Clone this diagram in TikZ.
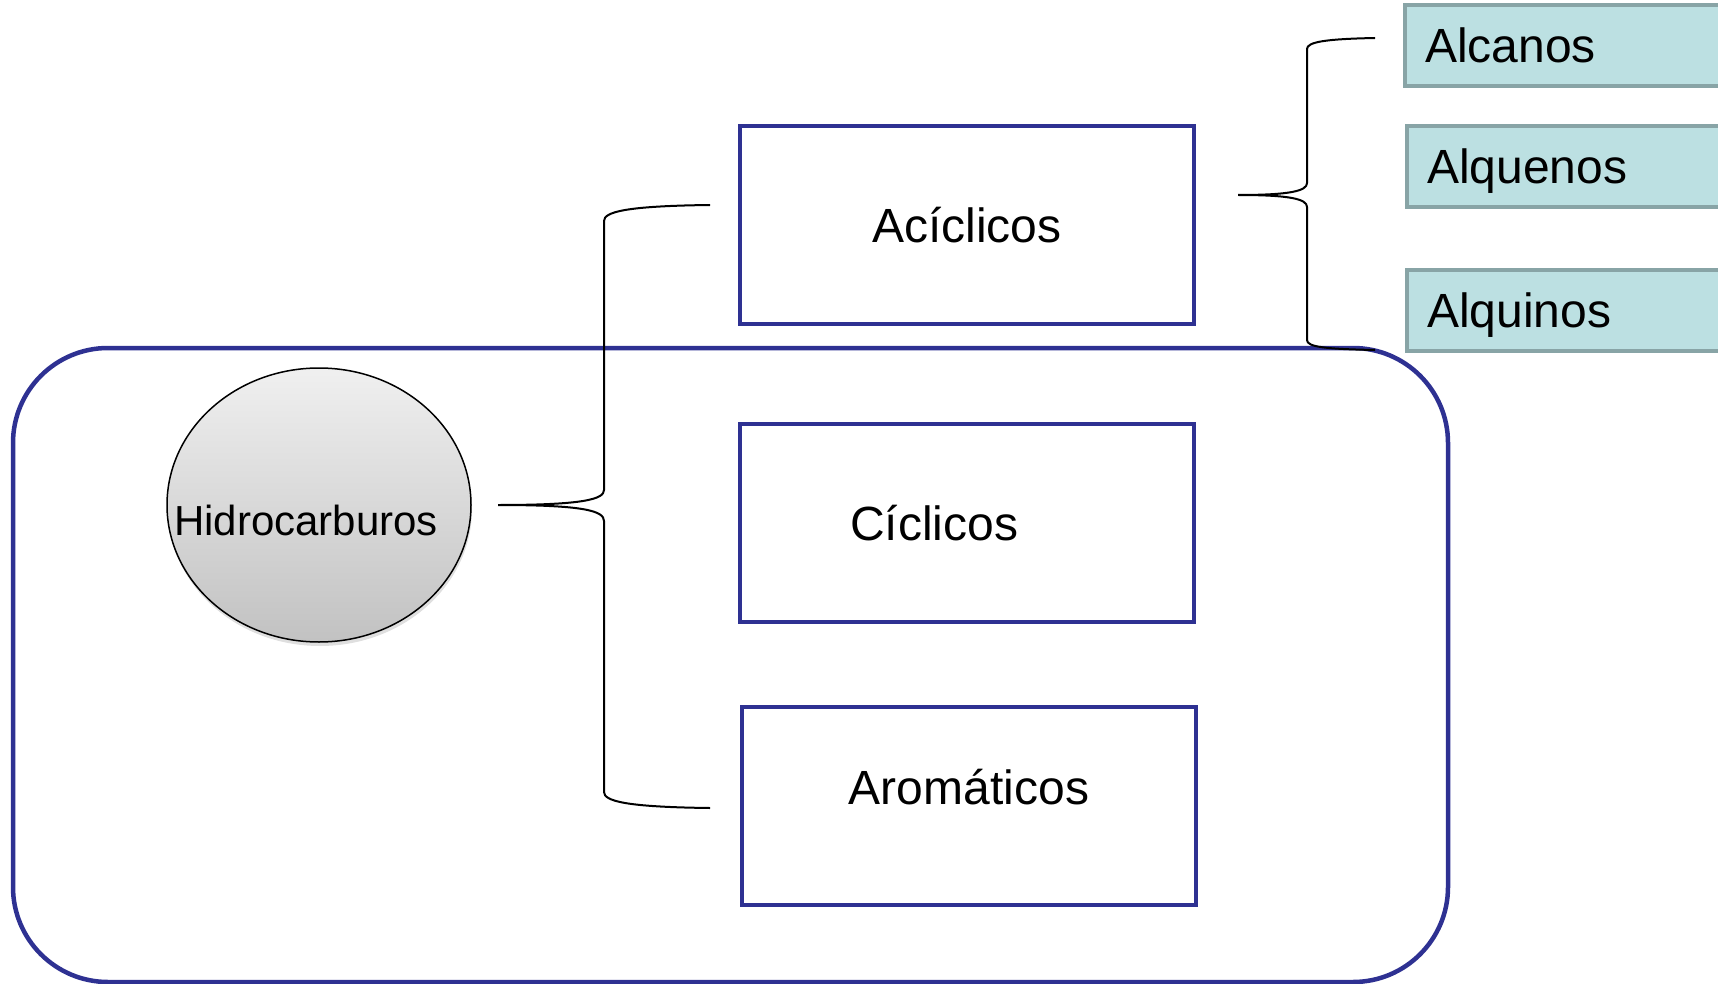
\documentclass[tikz,border=0pt]{standalone}
\usepackage{fontspec}
\setmainfont{Liberation Sans}
\usetikzlibrary{shapes.geometric,shadows}
\definecolor{azulmarco}{HTML}{2E3192}
\definecolor{verdefondo}{HTML}{BCE0E2}
\definecolor{verdeborde}{HTML}{88A4A6}
\begin{document}
\begin{tikzpicture}[x=1pt,y=-1pt,
      caja/.style={draw=azulmarco,line width=4.5pt,minimum width=454pt,minimum height=198pt,inner sep=0pt},
      tipo/.style={draw=verdeborde,fill=verdefondo,line width=4pt,anchor=west,text depth=0pt,
        text width=300pt,inner xsep=20pt,minimum height=81pt,align=left},
      llave/.style={line width=2pt},
      font=\fontsize{48}{56}\selectfont]
    \useasboundingbox (0,0) rectangle (1718,984);
    \clip (0,0) rectangle (1718,984);
    \draw[azulmarco,line width=4.5pt,rounded corners=95pt] (13,348) rectangle (1448,982);
    \node[ellipse,draw,line width=1.5pt,minimum width=304pt,minimum height=274pt,
          top color=gray!12,bottom color=gray!48,
          drop shadow={shadow xshift=1pt,shadow yshift=-4pt,opacity=0.25},
          label={[xshift=-13pt,yshift=-15pt,font=\fontsize{42}{50}\selectfont]center:Hidrocarburos}]
          (hidro) at (319,505) {};
    \node[caja] (aciclicos) at (967,225) {Acíclicos};
    \node[caja,label={[xshift=-33pt]center:Cíclicos}] (ciclicos) at (967,523) {};
    \node[caja,label={[yshift=19pt]center:Aromáticos}] (aromaticos) at (969,806) {};
    \node[tipo] (alcanos) at (1403,45.5) {Alcanos};
    \node[tipo] (alquenos) at (1405,166.5) {Alquenos};
    \node[tipo] (alquinos) at (1405,310.5) {Alquinos};
    \coordinate (hb) at (498,505);
    \coordinate (hb-a) at (710,205);
    \coordinate (hb-c) at (710,808);
    \coordinate (ab) at (1238,195);
    \coordinate (ab-a) at (1375,38);
    \coordinate (ab-c) at (1375,350);
    \draw[llave] (hb-a) .. controls (625,206) and (604,212) .. (604,221) -- (604,490)
        .. controls (604,499) and (585,505) .. (hb)
        .. controls (585,505) and (604,511) .. (604,521) -- (604,792)
        .. controls (604,801) and (625,807) .. (hb-c);
    \draw[llave] (ab-a) .. controls (1325,39) and (1307,42) .. (1307,49) -- (1307,183)
        .. controls (1307,191) and (1290,195) .. (ab)
        .. controls (1290,195) and (1307,199) .. (1307,207) -- (1307,340)
        .. controls (1307,347) and (1325,349) .. (ab-c);
\end{tikzpicture}
\end{document}
